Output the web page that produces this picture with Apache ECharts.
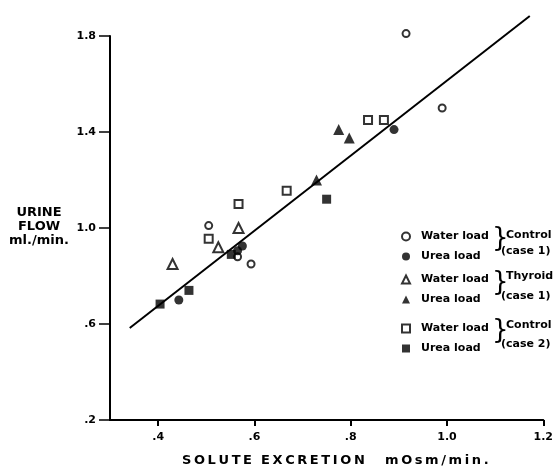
<!DOCTYPE html>
<html>
<head>
<meta charset="utf-8">
<script src="https://cdn.jsdelivr.net/npm/echarts@6/dist/echarts.min.js"></script>
<style>
html,body{margin:0;padding:0;background:#fff;}
#chart{width:556px;height:470px;}
</style>
</head>
<body>
<div id="chart"></div>
<script>
// ---- data ----
var xTicks = [0.4, 0.6, 0.8, 1.0, 1.2];
var xTickLabels = ['.4', '.6', '.8', '1.0', '1.2'];
var yTicks = [0.2, 0.6, 1.0, 1.4, 1.8];
var yTickLabels = ['.2', '.6', '1.0', '1.4', '1.8'];

var controlWater = [[0.915, 1.81], [0.99, 1.50], [0.505, 1.01], [0.593, 0.85], [0.565, 0.88]];
var controlUrea = [[0.89, 1.41], [0.575, 0.925], [0.565, 0.905], [0.443, 0.70]];
var thyroidWater = [[0.43, 0.85], [0.525, 0.92], [0.567, 1.0]];
var thyroidUrea = [[0.775, 1.41], [0.797, 1.375], [0.729, 1.20]];
var control2Water = [[0.836, 1.45], [0.869, 1.45], [0.667, 1.155], [0.567, 1.10], [0.505, 0.955]];
var control2Urea = [[0.75, 1.12], [0.464, 0.74], [0.404, 0.683], [0.552, 0.89]];
var fitLine = [[0.341, 0.583], [1.172, 1.883]];

var FONT = 'DejaVu Sans';
var TS = '\u2009';
function spaced(s) { return s.split('').join(TS); }
function lookup(ticks, labels, v) {
  for (var i = 0; i < ticks.length; i++) if (Math.abs(ticks[i] - v) < 1e-6) return labels[i];
  return '';
}
var openStyle = {color: '#fff', borderColor: '#000', borderWidth: 2};
var fillStyle = {color: '#000'};
function sc(name, data, symbol, size, style) {
  return {type: 'scatter', name: name, data: data, symbol: symbol, symbolSize: size,
    itemStyle: style, emphasis: {disabled: true}, clip: false, z: 3};
}
var chart = echarts.init(document.getElementById('chart'));
var legendBase = {orient: 'vertical', left: 401, itemWidth: 8, itemHeight: 8, itemGap: 9, padding: 0,
  selectedMode: false, formatter: function (n) { return n.split(' (')[0]; },
  textStyle: {fontFamily: FONT, fontWeight: 'bold', fontSize: 11, color: '#000', padding: [0, 0, 0, 6]}};
chart.setOption({
  animation: false,
  backgroundColor: '#fff',
  grid: {left: 110, right: 9, top: 36, bottom: 50},
  xAxis: {type: 'value', min: 0.3, max: 1.2,
    axisLine: {show: true, lineStyle: {color: '#000', width: 2}},
    axisTick: {show: true, customValues: xTicks, length: 6, lineStyle: {color: '#000', width: 2}},
    axisLabel: {customValues: xTicks, margin: 12, fontFamily: FONT, fontWeight: 'bold', fontSize: 11, color: '#000',
      formatter: function (v) { return lookup(xTicks, xTickLabels, v); }},
    splitLine: {show: false}},
  yAxis: {type: 'value', min: 0.2, max: 1.8, interval: 0.4,
    axisLine: {show: true, lineStyle: {color: '#000', width: 2}},
    axisTick: {show: true, customValues: yTicks, length: 11, lineStyle: {color: '#000', width: 1.5}},
    axisLabel: {customValues: yTicks, margin: 14, fontFamily: FONT, fontWeight: 'bold', fontSize: 11, color: '#000',
      formatter: function (v) { return lookup(yTicks, yTickLabels, v); }},
    splitLine: {show: false}},
  legend: [
    Object.assign({}, legendBase, {top: 231, data: ['Water load (Control, case 1)', 'Urea load (Control, case 1)']}),
    Object.assign({}, legendBase, {top: 274, data: ['Water load (Thyroid, case 1)', 'Urea load (Thyroid, case 1)']}),
    Object.assign({}, legendBase, {top: 323, data: ['Water load (Control, case 2)', 'Urea load (Control, case 2)']})
  ],
  series: [
    {type: 'line', data: fitLine, showSymbol: false, clip: false, silent: true,
      lineStyle: {color: '#000', width: 2}, z: 2},
    sc('Water load (Control, case 1)', controlWater, 'circle', 7, openStyle),
    sc('Urea load (Control, case 1)', controlUrea, 'circle', 9, fillStyle),
    sc('Water load (Thyroid, case 1)', thyroidWater, 'triangle', 10, openStyle),
    sc('Urea load (Thyroid, case 1)', thyroidUrea, 'triangle', 11, fillStyle),
    sc('Water load (Control, case 2)', control2Water, 'rect', 8, openStyle),
    sc('Urea load (Control, case 2)', control2Urea, 'rect', 9, fillStyle)
  ],
  graphic: [
    {type: 'text', x: 39, y: 213, style: {text: 'URINE', align: 'center', verticalAlign: 'middle',
      font: 'bold 13px "DejaVu Sans"', fill: '#000'}},
    {type: 'text', x: 39, y: 227, style: {text: 'FLOW', align: 'center', verticalAlign: 'middle',
      font: 'bold 13px "DejaVu Sans"', fill: '#000'}},
    {type: 'text', x: 39, y: 241, style: {text: 'ml./min.', align: 'center', verticalAlign: 'middle',
      font: 'bold 13px "DejaVu Sans"', fill: '#000'}},
    {type: 'text', x: 182, y: 461, style: {text: spaced('SOLUTE') + '  ' + spaced('EXCRETION'), verticalAlign: 'middle',
      font: 'bold 13px "DejaVu Sans"', fill: '#000'}},
    {type: 'text', x: 385, y: 461, style: {text: spaced('mOsm/min.'), verticalAlign: 'middle',
      font: 'bold 13px "DejaVu Sans"', fill: '#000'}},
    {type: 'text', left: 492, top: 226, style: {text: '}', font: '26px "DejaVu Sans"', fill: '#000'}},
    {type: 'text', left: 506, top: 230, style: {text: 'Control', font: 'bold 11px "DejaVu Sans"', fill: '#000'}},
    {type: 'text', left: 501, top: 246, style: {text: '(case 1)', font: 'bold 11px "DejaVu Sans"', fill: '#000'}},
    {type: 'text', left: 492, top: 270, style: {text: '}', font: '26px "DejaVu Sans"', fill: '#000'}},
    {type: 'text', left: 506, top: 271, style: {text: 'Thyroid', font: 'bold 11px "DejaVu Sans"', fill: '#000'}},
    {type: 'text', left: 501, top: 291, style: {text: '(case 1)', font: 'bold 11px "DejaVu Sans"', fill: '#000'}},
    {type: 'text', left: 492, top: 318, style: {text: '}', font: '26px "DejaVu Sans"', fill: '#000'}},
    {type: 'text', left: 506, top: 320, style: {text: 'Control', font: 'bold 11px "DejaVu Sans"', fill: '#000'}},
    {type: 'text', left: 501, top: 339, style: {text: '(case 2)', font: 'bold 11px "DejaVu Sans"', fill: '#000'}}
  ]
});
</script>
</body>
</html>
